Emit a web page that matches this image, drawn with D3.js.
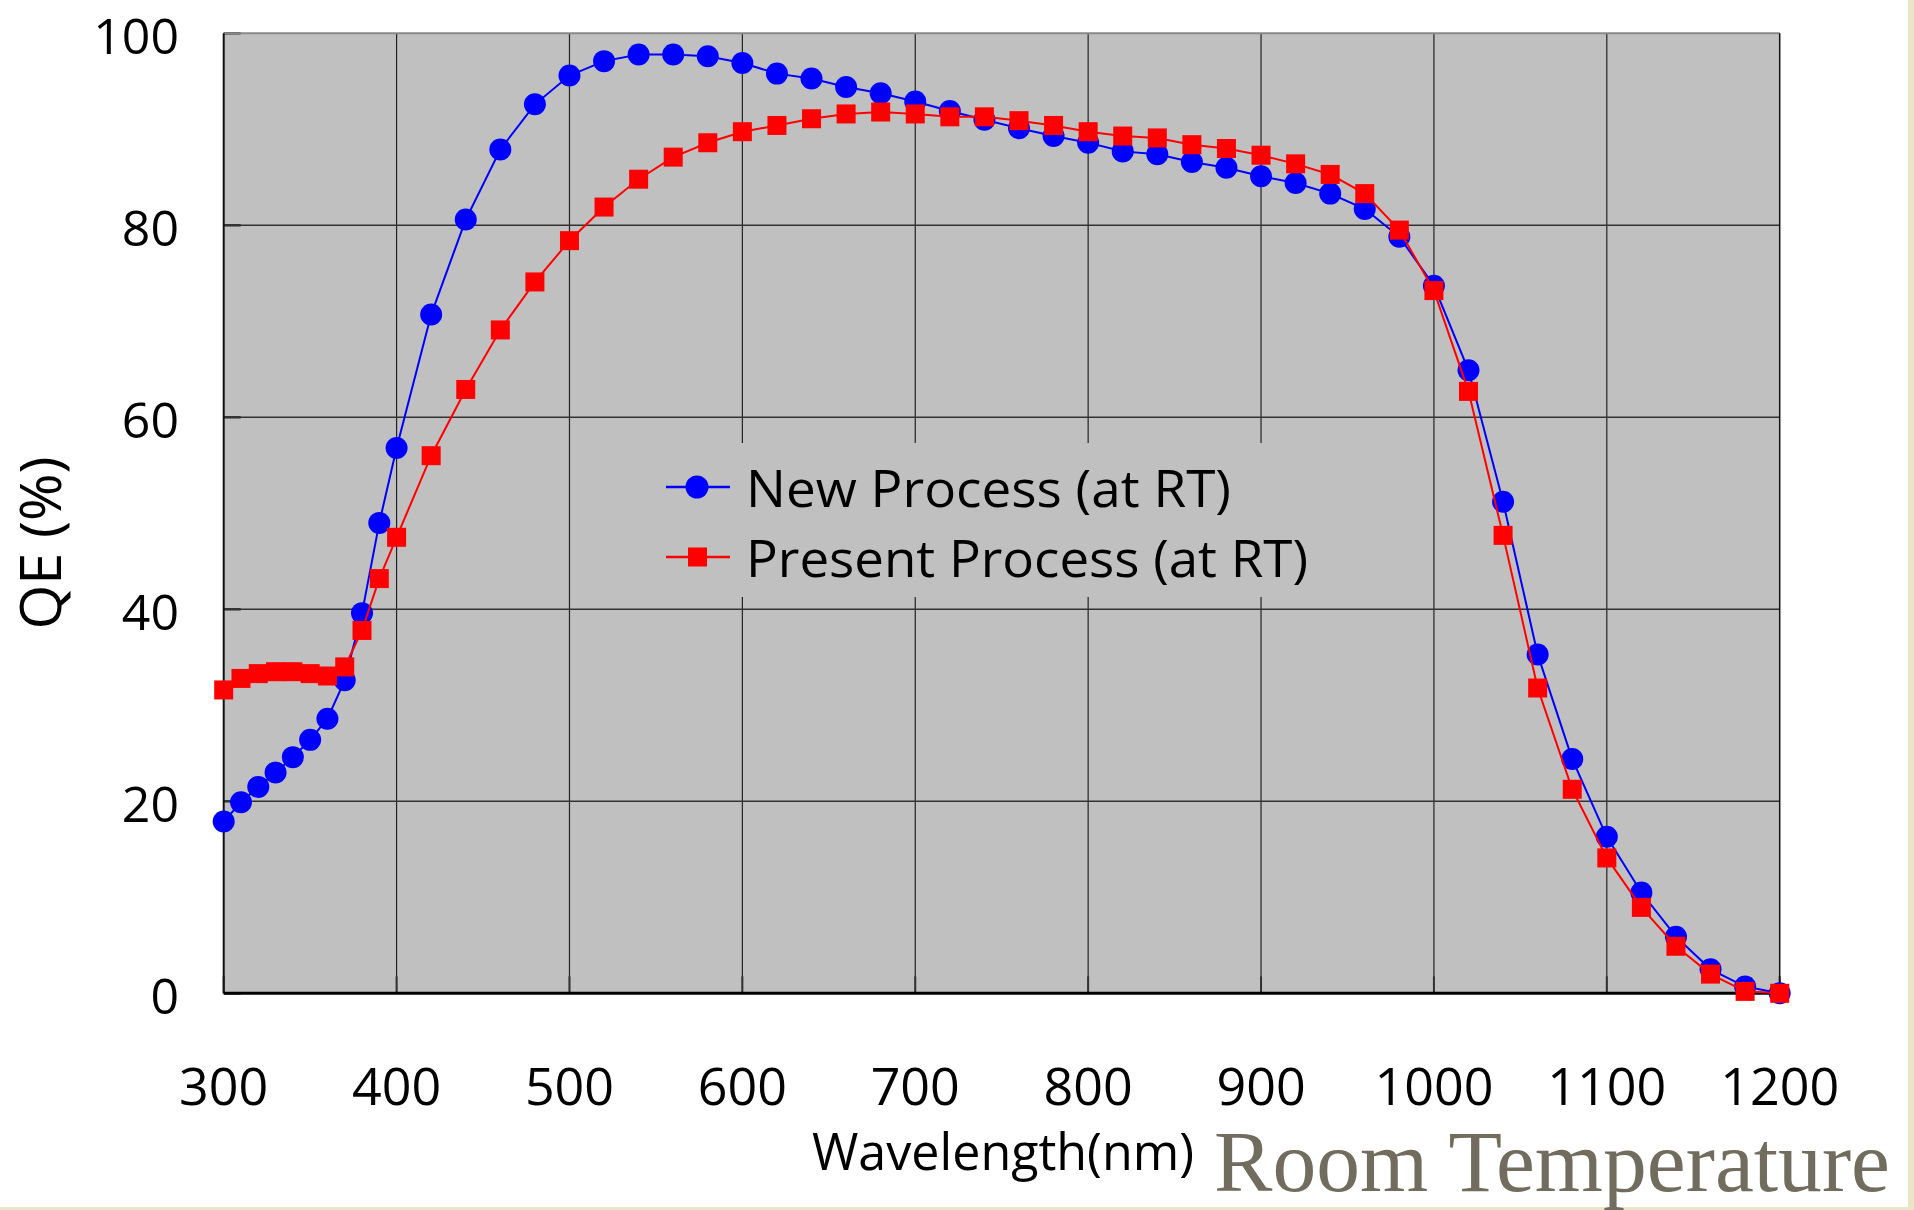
<!DOCTYPE html>
<html>
<head>
<meta charset="utf-8">
<script src="https://cdn.jsdelivr.net/npm/d3@7"></script>
<style>
  html, body { margin: 0; padding: 0; background: #ffffff; }
  svg { display: block; }
</style>
</head>
<body>
<svg id="chart" width="1914" height="1210"></svg>
<script>
const wavelengths = [300,310,320,330,340,350,360,370,380,390,400,
  420,440,460,480,500,520,540,560,580,600,620,640,660,680,700,
  720,740,760,780,800,820,840,860,880,900,920,940,960,980,1000,
  1020,1040,1060,1080,1100,1120,1140,1160,1180,1200];

const newProcess = [17.9,19.9,21.5,23.0,24.6,26.4,28.6,32.6,39.6,49.0,56.8,
  70.7,80.6,87.9,92.6,95.6,97.1,97.8,97.8,97.6,96.9,95.8,95.3,94.4,93.75,92.9,
  91.9,91.0,90.1,89.3,88.6,87.7,87.4,86.6,86.0,85.1,84.4,83.3,81.7,78.8,73.7,
  64.9,51.2,35.3,24.4,16.3,10.5,5.9,2.5,0.7,0.0];

const presentProcess = [31.6,32.8,33.3,33.5,33.5,33.3,33.05,34.0,37.8,43.2,47.5,
  56.0,62.9,69.1,74.1,78.4,81.9,84.8,87.1,88.6,89.75,90.4,91.1,91.6,91.8,91.6,
  91.3,91.3,90.9,90.4,89.75,89.3,89.1,88.4,88.0,87.3,86.4,85.3,83.3,79.5,73.2,
  62.7,47.7,31.8,21.25,14.1,8.95,4.9,2.0,0.2,0.0];

const xTicks = [300,400,500,600,700,800,900,1000,1100,1200];
const yTicks = [0,20,40,60,80,100];
const seriesNames = ["New Process (at RT)", "Present Process (at RT)"];
const xTitle = "Wavelength(nm)";
const yTitle = "QE (%)";
const caption = "Room Temperature";

const svg = d3.select("#chart");
const L = 223.7, R = 1779.7, T = 33.3, B = 993.3;
const x = d3.scaleLinear().domain([300,1200]).range([L,R]);
const y = d3.scaleLinear().domain([0,100]).range([B,T]);
const FONT = "'Comic Sans MS', 'Open Sans', sans-serif";

// beige frame strips
svg.append("rect").attr("x",1908).attr("y",0).attr("width",6).attr("height",1210).attr("fill","#ECE4C6");
svg.append("rect").attr("x",0).attr("y",1207).attr("width",1914).attr("height",3).attr("fill","#ECE4C6");

// plot background
svg.append("rect").attr("x",L).attr("y",T).attr("width",R-L).attr("height",B-T).attr("fill","#C0C0C0");

// gridlines
const g = svg.append("g");
g.selectAll("line.vg").data(xTicks.slice(1,-1)).enter().append("line")
  .attr("x1",d=>x(d)).attr("x2",d=>x(d)).attr("y1",T).attr("y2",B)
  .attr("stroke","#222").attr("stroke-width",1.2);
g.selectAll("line.hg").data(yTicks.slice(1,-1)).enter().append("line")
  .attr("x1",L).attr("x2",R).attr("y1",d=>y(d)).attr("y2",d=>y(d))
  .attr("stroke","#333").attr("stroke-width",1.5);

// inward tick marks
g.selectAll("line.xt").data(xTicks).enter().append("line")
  .attr("x1",d=>x(d)).attr("x2",d=>x(d)).attr("y1",B-17).attr("y2",B)
  .attr("stroke","#333").attr("stroke-width",2);
g.selectAll("line.yt").data(yTicks).enter().append("line")
  .attr("x1",L).attr("x2",L+17).attr("y1",d=>y(d)).attr("y2",d=>y(d))
  .attr("stroke","#333").attr("stroke-width",2.5);

// frame
svg.append("line").attr("x1",L).attr("x2",R).attr("y1",T).attr("y2",T).attr("stroke","#8a8a8a").attr("stroke-width",2);
svg.append("line").attr("x1",R).attr("x2",R).attr("y1",T).attr("y2",B).attr("stroke","#111").attr("stroke-width",1.5);
svg.append("line").attr("x1",L).attr("x2",L).attr("y1",T).attr("y2",B).attr("stroke","#111").attr("stroke-width",2);
svg.append("line").attr("x1",L).attr("x2",R).attr("y1",B).attr("y2",B).attr("stroke","#000").attr("stroke-width",3);

// legend background (hides gridlines)
svg.append("rect").attr("x",640).attr("y",443).attr("width",690).attr("height",154).attr("fill","#C0C0C0");

// series
const line = d3.line().x((d,i)=>x(wavelengths[i])).y(d=>y(d));
svg.append("path").datum(newProcess).attr("d",line).attr("fill","none").attr("stroke","#0000FF").attr("stroke-width",2);
svg.append("g").selectAll("circle").data(newProcess).enter().append("circle")
  .attr("cx",(d,i)=>x(wavelengths[i])).attr("cy",d=>y(d)).attr("r",11).attr("fill","#0000FF");
svg.append("path").datum(presentProcess).attr("d",line).attr("fill","none").attr("stroke","#FF0000").attr("stroke-width",2);
svg.append("g").selectAll("rect").data(presentProcess).enter().append("rect")
  .attr("x",(d,i)=>x(wavelengths[i])-9.5).attr("y",d=>y(d)-9.5).attr("width",19).attr("height",19).attr("fill","#FF0000");

// legend
const lg = svg.append("g");
const legY = [487, 557];
const legColors = ["#0000FF","#FF0000"];
const legWidths = [485, 562];
legY.forEach((ly,i)=>{
  lg.append("line").attr("x1",666).attr("x2",730).attr("y1",ly).attr("y2",ly).attr("stroke",legColors[i]).attr("stroke-width",2.5);
  if(i===0) lg.append("circle").attr("cx",697).attr("cy",ly).attr("r",11.5).attr("fill",legColors[i]);
  else lg.append("rect").attr("x",688).attr("y",ly-9.5).attr("width",19).attr("height",19).attr("fill",legColors[i]);
  lg.append("text").attr("x",746).attr("y",ly+20).attr("font-family",FONT).attr("font-size",52)
    .attr("textLength",legWidths[i]).attr("lengthAdjust","spacingAndGlyphs")
    .attr("fill","#000").text(seriesNames[i]);
});

// tick labels
svg.append("g").selectAll("text").data(yTicks).enter().append("text")
  .attr("x",179).attr("y",d=>y(d)+21).attr("text-anchor","end")
  .attr("font-family",FONT).attr("font-size",50).attr("fill","#000").text(d=>d);
svg.append("g").selectAll("text").data(xTicks).enter().append("text")
  .attr("x",d=>x(d)).attr("y",1105).attr("text-anchor","middle")
  .attr("font-family",FONT).attr("font-size",52).attr("fill","#000").text(d=>d);

// axis titles
svg.append("text").attr("x",812).attr("y",1170).attr("font-family",FONT).attr("font-size",52)
  .attr("textLength",382).attr("lengthAdjust","spacingAndGlyphs").attr("fill","#000").text(xTitle);
svg.append("text").attr("transform","translate(61,543) rotate(-90)").attr("text-anchor","middle")
  .attr("font-family",FONT).attr("font-size",56).attr("textLength",173).attr("lengthAdjust","spacingAndGlyphs")
  .attr("fill","#000").text(yTitle);

// caption
svg.append("text").attr("x",1214).attr("y",1191).attr("font-family","'Liberation Serif','Times New Roman',serif")
  .attr("font-size",86).attr("textLength",676).attr("lengthAdjust","spacingAndGlyphs")
  .attr("fill","#726C5E").text(caption);
</script>
</body>
</html>
